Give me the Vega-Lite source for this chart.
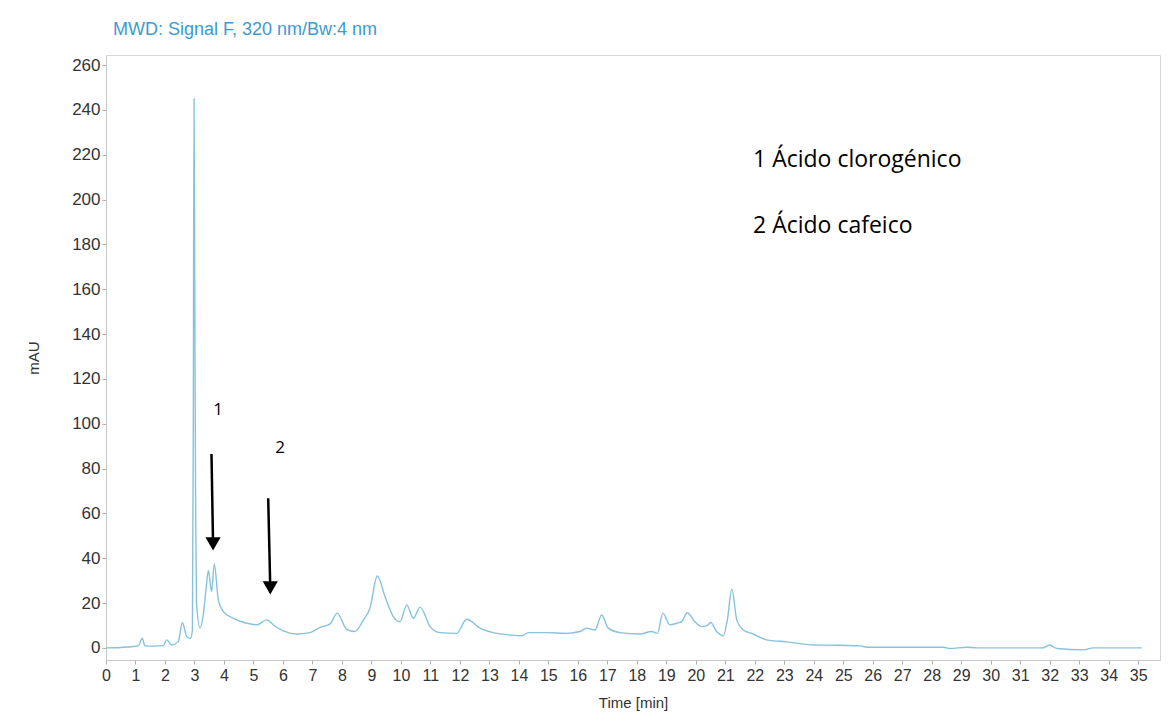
{
  "$schema": "https://vega.github.io/schema/vega-lite/v6.json",
  "width": 1054,
  "height": 605,
  "autosize": {"type": "none"},
  "padding": {"left": 106, "top": 55, "right": 9, "bottom": 63},
  "background": "white",
  "config": {
    "view": {"stroke": "#d4d4d4", "strokeWidth": 1},
    "font": "Liberation Sans",
    "axisX": {
      "values": [0,1,2,3,4,5,6,7,8,9,10,11,12,13,14,15,16,17,18,19,20,21,22,23,24,25,26,27,28,29,30,31,32,33,34,35],
      "labelOverlap": false
    }
  },
  "title": {
    "text": "MWD: Signal F, 320 nm/Bw:4 nm",
    "anchor": "start",
    "frame": "group",
    "dx": 7,
    "offset": 16,
    "fontSize": 18,
    "fontWeight": "normal",
    "color": "#3b9bd2",
    "font": "Liberation Sans"
  },
  "datasets": {
    "trace": [
      {"t": 0.0, "v": 0.0}, {"t": 0.5, "v": 0.2}, {"t": 0.92, "v": 0.6}, {"t": 1.1, "v": 1.0},
      {"t": 1.23, "v": 4.3}, {"t": 1.32, "v": 0.9}, {"t": 1.6, "v": 0.8}, {"t": 1.94, "v": 1.0},
      {"t": 2.06, "v": 3.6}, {"t": 2.23, "v": 1.3}, {"t": 2.45, "v": 2.8}, {"t": 2.59, "v": 11.3},
      {"t": 2.74, "v": 5.0}, {"t": 2.87, "v": 4.3}, {"t": 2.93, "v": 8.0}, {"t": 2.96, "v": 100.0},
      {"t": 2.985, "v": 245.0}, {"t": 3.01, "v": 160.0}, {"t": 3.04, "v": 60.0}, {"t": 3.07, "v": 20.0},
      {"t": 3.19, "v": 8.8}, {"t": 3.3, "v": 15.0}, {"t": 3.39, "v": 25.9}, {"t": 3.47, "v": 34.5},
      {"t": 3.58, "v": 25.1}, {"t": 3.67, "v": 37.5}, {"t": 3.81, "v": 21.4}, {"t": 3.98, "v": 16.2},
      {"t": 4.32, "v": 13.2}, {"t": 4.77, "v": 11.0}, {"t": 5.11, "v": 10.3}, {"t": 5.45, "v": 12.5},
      {"t": 5.7, "v": 10.0}, {"t": 6.01, "v": 7.6}, {"t": 6.47, "v": 6.2}, {"t": 6.92, "v": 6.8},
      {"t": 7.26, "v": 9.2}, {"t": 7.6, "v": 10.7}, {"t": 7.84, "v": 15.5}, {"t": 8.16, "v": 8.3},
      {"t": 8.44, "v": 7.3}, {"t": 8.73, "v": 12.5}, {"t": 8.95, "v": 17.7}, {"t": 9.2, "v": 32.1},
      {"t": 9.46, "v": 22.9}, {"t": 9.74, "v": 14.0}, {"t": 9.97, "v": 11.7}, {"t": 10.2, "v": 19.2},
      {"t": 10.42, "v": 13.2}, {"t": 10.65, "v": 18.2}, {"t": 10.99, "v": 9.5}, {"t": 11.33, "v": 6.8},
      {"t": 11.89, "v": 6.5}, {"t": 12.23, "v": 12.8}, {"t": 12.68, "v": 8.8}, {"t": 13.13, "v": 6.8},
      {"t": 13.7, "v": 5.8}, {"t": 14.1, "v": 5.4}, {"t": 14.32, "v": 6.8}, {"t": 14.94, "v": 6.8},
      {"t": 15.62, "v": 6.5}, {"t": 16.07, "v": 7.3}, {"t": 16.3, "v": 8.8}, {"t": 16.58, "v": 8.0},
      {"t": 16.81, "v": 14.7}, {"t": 17.03, "v": 8.8}, {"t": 17.43, "v": 6.8}, {"t": 18.11, "v": 6.2},
      {"t": 18.5, "v": 7.3}, {"t": 18.7, "v": 6.5}, {"t": 18.88, "v": 15.5}, {"t": 19.12, "v": 10.3},
      {"t": 19.35, "v": 11.0}, {"t": 19.52, "v": 11.7}, {"t": 19.71, "v": 15.7}, {"t": 19.97, "v": 11.7},
      {"t": 20.2, "v": 9.5}, {"t": 20.37, "v": 9.8}, {"t": 20.5, "v": 11.3}, {"t": 20.71, "v": 7.3},
      {"t": 20.93, "v": 5.4}, {"t": 21.07, "v": 12.5}, {"t": 21.22, "v": 26.2}, {"t": 21.39, "v": 12.5},
      {"t": 21.61, "v": 8.0}, {"t": 21.95, "v": 6.2}, {"t": 22.4, "v": 3.6}, {"t": 23.08, "v": 2.7},
      {"t": 23.98, "v": 1.3}, {"t": 24.89, "v": 1.2}, {"t": 25.57, "v": 0.9}, {"t": 25.8, "v": 0.3},
      {"t": 28.39, "v": 0.3}, {"t": 28.62, "v": -0.3}, {"t": 29.19, "v": 0.3}, {"t": 29.52, "v": 0.0},
      {"t": 31.78, "v": 0.0}, {"t": 31.99, "v": 1.3}, {"t": 32.24, "v": -0.3}, {"t": 33.14, "v": -0.9},
      {"t": 33.48, "v": 0.0}, {"t": 35.12, "v": 0.0}
    ],
    "arrows": [
      {"t": 3.577, "v": 86.5, "t2": 3.63, "v2": 46.4},
      {"t": 5.5, "v": 66.8, "t2": 5.57, "v2": 26.8}
    ],
    "numbers": [
      {"t": 3.8, "v": 106.2, "label": "1"},
      {"t": 5.9, "v": 89.2, "label": "2"}
    ],
    "legend": [
      {"t": 21.94, "v": 214.5, "label": "1 Ácido clorogénico"},
      {"t": 21.94, "v": 185.1, "label": "2 Ácido cafeico"}
    ]
  },
  "layer": [
    {
      "data": {"name": "trace"},
      "mark": {"type": "line", "color": "#86c2dd", "strokeWidth": 1.4, "clip": true, "interpolate": "monotone"},
      "encoding": {
        "x": {
          "field": "t", "type": "quantitative",
          "scale": {"domain": [0, 35.74], "nice": false, "zero": false},
          "axis": {
            "title": "Time [min]",
            "values": [0,1,2,3,4,5,6,7,8,9,10,11,12,13,14,15,16,17,18,19,20,21,22,23,24,25,26,27,28,29,30,31,32,33,34,35],
            "grid": false, "domainColor": "#c8c8c8", "tickColor": "#b0b0b0", "tickSize": 4,
            "labelFontSize": 16, "labelColor": "#333333", "labelPadding": 3, "labelFlush": false, "labelOverlap": false,
            "titleFontSize": 15, "titleFontWeight": "normal", "titleColor": "#333333", "titlePadding": 12
          }
        },
        "y": {
          "field": "v", "type": "quantitative",
          "scale": {"domain": [-5.4, 264.5], "nice": false, "zero": false},
          "axis": {
            "title": "mAU", "values": [0,20,40,60,80,100,120,140,160,180,200,220,240,260],
            "grid": false, "domainColor": "#c8c8c8", "tickColor": "#b0b0b0", "tickSize": 4,
            "labelFontSize": 17, "labelColor": "#333333", "labelPadding": 2, "labelFlush": false, "labelOverlap": false,
            "titleFontSize": 15, "titleFontWeight": "normal", "titleColor": "#333333", "titlePadding": 30
          }
        }
      }
    },
    {
      "data": {"name": "arrows"},
      "mark": {"type": "rule", "color": "black", "strokeWidth": 2.5},
      "encoding": {
        "x": {"field": "t", "type": "quantitative", "axis": {"values": [0,1,2,3,4,5,6,7,8,9,10,11,12,13,14,15,16,17,18,19,20,21,22,23,24,25,26,27,28,29,30,31,32,33,34,35], "labelOverlap": false}},
        "y": {"field": "v", "type": "quantitative"},
        "x2": {"field": "t2"},
        "y2": {"field": "v2"}
      }
    },
    {
      "data": {"name": "arrows"},
      "mark": {"type": "point", "shape": "triangle-down", "filled": true, "color": "black", "size": 230, "opacity": 1},
      "encoding": {
        "x": {"field": "t2", "type": "quantitative", "axis": {"values": [0,1,2,3,4,5,6,7,8,9,10,11,12,13,14,15,16,17,18,19,20,21,22,23,24,25,26,27,28,29,30,31,32,33,34,35], "labelOverlap": false}},
        "y": {"field": "v2", "type": "quantitative"}
      }
    },
    {
      "data": {"name": "numbers"},
      "mark": {"type": "text", "font": "Open Sans", "fontSize": 17, "color": "black", "align": "center", "baseline": "middle"},
      "encoding": {
        "x": {"field": "t", "type": "quantitative", "axis": {"values": [0,1,2,3,4,5,6,7,8,9,10,11,12,13,14,15,16,17,18,19,20,21,22,23,24,25,26,27,28,29,30,31,32,33,34,35], "labelOverlap": false}},
        "y": {"field": "v", "type": "quantitative"},
        "text": {"field": "label"}
      }
    },
    {
      "data": {"name": "legend"},
      "mark": {"type": "text", "font": "Open Sans", "fontSize": 23, "color": "black", "align": "left", "baseline": "alphabetic"},
      "encoding": {
        "x": {"field": "t", "type": "quantitative", "axis": {"values": [0,1,2,3,4,5,6,7,8,9,10,11,12,13,14,15,16,17,18,19,20,21,22,23,24,25,26,27,28,29,30,31,32,33,34,35], "labelOverlap": false}},
        "y": {"field": "v", "type": "quantitative"},
        "text": {"field": "label"}
      }
    }
  ]
}
